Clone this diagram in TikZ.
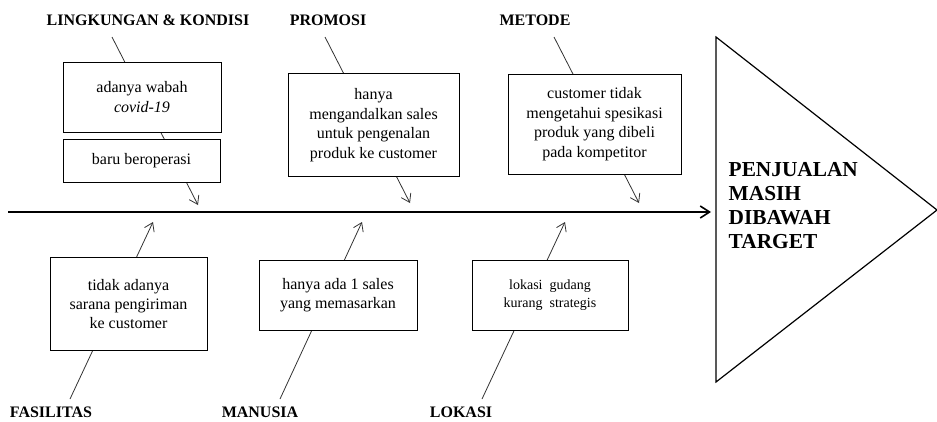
\documentclass[tikz,border=0pt]{standalone}
\usepackage{fontspec}
\setmainfont{Liberation Serif}
\usetikzlibrary{arrows.meta,backgrounds}

\begin{document}
\begin{tikzpicture}[x=0.75pt,y=-0.75pt,
    cat/.style={font=\fontsize{12}{14}\selectfont\bfseries},
    cause/.style={draw,fill=white,align=center,inner sep=2pt,
      font=\fontsize{12}{14.6}\selectfont},
    bone/.style={draw=black!80,line width=0.6pt,-{Straight Barb[length=6pt,width=8pt]}},
    spine/.style={line width=1.2pt,-{Straight Barb[length=7pt,width=9pt]}}]
  \useasboundingbox (0,0) rectangle (937,421);
  % kategori
  \node[cat] (lingkungan) at (148,20) {LINGKUNGAN \& KONDISI};
  \node[cat] (promosi) at (328,20) {PROMOSI};
  \node[cat] (metode) at (535,20) {METODE};
  \node[cat] (fasilitas) at (51,412) {FASILITAS};
  \node[cat] (manusia) at (260,412) {MANUSIA};
  \node[cat] (lokasi) at (461,412) {LOKASI};
  % penyebab
  \node[cause,minimum width=158*0.75pt,minimum height=70*0.75pt] (wabah) at (142,97)
    {adanya wabah\\\textit{covid-19}};
  \node[cause,minimum width=157*0.75pt,minimum height=43*0.75pt] (baru) at (141.5,160.5)
    {baru beroperasi};
  \node[cause,minimum width=171*0.75pt,minimum height=103*0.75pt] (sales) at (373.5,125)
    {hanya\\mengandalkan sales\\untuk pengenalan\\produk ke customer};
  \node[cause,minimum width=173*0.75pt,minimum height=100*0.75pt] (spesifikasi) at (594.5,124)
    {customer tidak\\mengetahui spesikasi\\produk yang dibeli\\pada kompetitor};
  \node[cause,minimum width=157*0.75pt,minimum height=93*0.75pt] (sarana) at (128.5,304)
    {tidak adanya\\sarana pengiriman\\ke customer};
  \node[cause,minimum width=158*0.75pt,minimum height=70*0.75pt] (satusales) at (338,295)
    {hanya ada 1 sales\\yang memasarkan};
  \node[cause,minimum width=156*0.75pt,minimum height=70*0.75pt,
    font=\fontsize{10.5}{13.5}\selectfont] (gudang) at (550,295)
    {lokasi~~gudang\\kurang~~strategis};
  % ujung tulang
  \coordinate (lk0) at (112,37);   \coordinate (lk1) at (198,205);
  \coordinate (pr0) at (325,37);   \coordinate (pr1) at (410,203);
  \coordinate (me0) at (554,37);   \coordinate (me1) at (639,203);
  \coordinate (fa0) at (70,399);   \coordinate (fa1) at (153,222);
  \coordinate (ma0) at (280,399);  \coordinate (ma1) at (362,222);
  \coordinate (lo0) at (482,399);  \coordinate (lo1) at (565,222);
  \coordinate (tail) at (8,212);   \coordinate (head) at (711,212);
  \begin{scope}[on background layer]
    \draw[bone] (lk0) -- (lk1);
    \draw[bone] (pr0) -- (pr1);
    \draw[bone] (me0) -- (me1);
    \draw[bone] (fa0) -- (fa1);
    \draw[bone] (ma0) -- (ma1);
    \draw[bone] (lo0) -- (lo1);
  \end{scope}
  \draw[spine] (tail) -- (head);
  % kepala ikan
  \draw[line width=0.9pt] (716,37) -- (937,210) -- (716,382) -- cycle;
  \node[anchor=west,align=left,font=\fontsize{16}{18}\selectfont\bfseries] (masalah) at (724,206)
    {PENJUALAN\\MASIH\\DIBAWAH\\TARGET};
\end{tikzpicture}
\end{document}
